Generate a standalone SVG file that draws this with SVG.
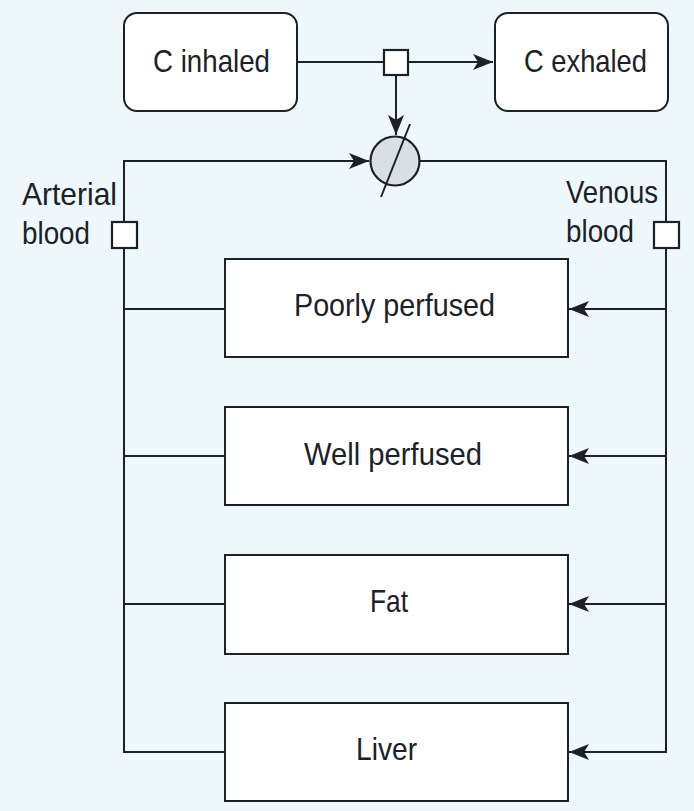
<svg xmlns="http://www.w3.org/2000/svg" width="694" height="811" viewBox="0 0 694 811">
<style>
.bg{fill:#eef8fa}
.box{fill:#ffffff;stroke:#1b2127;stroke-width:2}
.sq{fill:#ffffff;stroke:#1b2127;stroke-width:2.2}
.ln{fill:none;stroke:#1b2127;stroke-width:2}
.t{font-family:"Liberation Sans",Arial,sans-serif;font-size:32px;fill:#1b2127}
</style>
<defs>
<marker id="ah" viewBox="0 0 20 16" refX="20" refY="8" markerWidth="20" markerHeight="16" markerUnits="userSpaceOnUse" orient="auto">
<path d="M0,0 L20,8 L0,16 L5,8 Z" fill="#1b2127"/>
</marker>
</defs>
<rect class="bg" x="0" y="0" width="694" height="811"/>
<g id="connectors">
<path class="ln" d="M297,62 H493" marker-end="url(#ah)"/>
<path class="ln" d="M396,75 V135" marker-end="url(#ah)"/>
<path class="ln" d="M225,752 H124 V161 H369" marker-end="url(#ah)"/>
<path class="ln" d="M420,161 H666 V752 H569" marker-end="url(#ah)"/>
<path class="ln" d="M124,309 H225"/>
<path class="ln" d="M124,456 H225"/>
<path class="ln" d="M124,604 H225"/>
<path class="ln" d="M666,309 H569" marker-end="url(#ah)"/>
<path class="ln" d="M666,456 H569" marker-end="url(#ah)"/>
<path class="ln" d="M666,604 H569" marker-end="url(#ah)"/>
</g>
<g id="inhaled">
<rect class="box" x="124" y="13" width="173" height="98" rx="13"/>
<text class="t" x="153" y="72" textLength="117" lengthAdjust="spacingAndGlyphs">C inhaled</text>
</g>
<g id="exhaled">
<rect class="box" x="495" y="13" width="173" height="98" rx="13"/>
<text class="t" x="524" y="72" textLength="123" lengthAdjust="spacingAndGlyphs">C exhaled</text>
</g>
<g id="junction-top">
<rect class="sq" x="384" y="50" width="24" height="25"/>
</g>
<g id="lungs">
<circle cx="395" cy="161" r="24.5" fill="#d8e0e6" stroke="#1b2127" stroke-width="2.2"/>
<path class="ln" d="M410,124 L381,197"/>
</g>
<g id="arterial">
<rect class="sq" x="112" y="222" width="25" height="26"/>
<text class="t" x="22" y="205" textLength="95" lengthAdjust="spacingAndGlyphs">Arterial</text>
<text class="t" x="22" y="244" textLength="68" lengthAdjust="spacingAndGlyphs">blood</text>
</g>
<g id="venous">
<rect class="sq" x="654" y="222" width="25" height="26"/>
<text class="t" x="566" y="203" textLength="92" lengthAdjust="spacingAndGlyphs">Venous</text>
<text class="t" x="566" y="242" textLength="68" lengthAdjust="spacingAndGlyphs">blood</text>
</g>
<g id="poorly">
<rect class="box" x="225" y="259" width="343" height="98"/>
<text class="t" x="294" y="316" textLength="201" lengthAdjust="spacingAndGlyphs">Poorly perfused</text>
</g>
<g id="well">
<rect class="box" x="225" y="407" width="343" height="98"/>
<text class="t" x="304" y="465" textLength="178" lengthAdjust="spacingAndGlyphs">Well perfused</text>
</g>
<g id="fat">
<rect class="box" x="225" y="555" width="343" height="99"/>
<text class="t" x="370" y="612" textLength="38" lengthAdjust="spacingAndGlyphs">Fat</text>
</g>
<g id="liver">
<rect class="box" x="225" y="703" width="343" height="98"/>
<text class="t" x="356" y="760" textLength="61" lengthAdjust="spacingAndGlyphs">Liver</text>
</g>
</svg>
